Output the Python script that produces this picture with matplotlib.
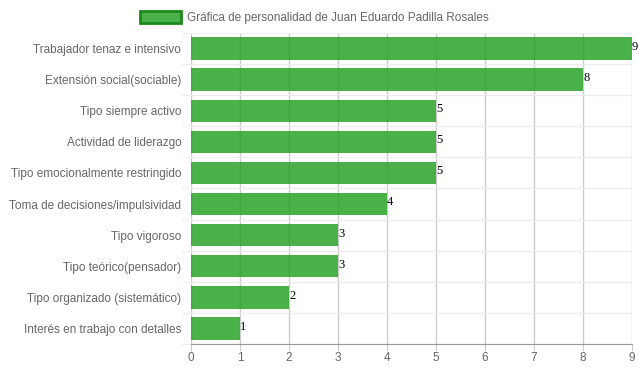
import numpy as np
import matplotlib.pyplot as plt
from matplotlib.patches import Patch

categories = ['Trabajador tenaz e intensivo', 'Extensión social(sociable)',
              'Tipo siempre activo', 'Actividad de liderazgo',
              'Tipo emocionalmente restringido', 'Toma de decisiones/impulsividad',
              'Tipo vigoroso', 'Tipo teórico(pensador)',
              'Tipo organizado (sistemático)', 'Interés en trabajo con detalles']
values = [9, 8, 5, 5, 5, 4, 3, 3, 2, 1]
title = 'Gráfica de personalidad de Juan Eduardo Padilla Rosales'

plt.rcParams['font.family'] = ['Liberation Sans', 'DejaVu Sans']

fig = plt.figure(figsize=(6.39, 3.72), dpi=100)
ax = fig.add_axes([191 / 639, 1 - 344 / 372, 441 / 639, 311 / 372])

bar_color = (34 / 255, 160 / 255, 34 / 255, 0.82)
y = np.arange(len(categories))
ax.barh(y, values, height=0.72, color=bar_color, zorder=2)

# value labels at the end of each bar
for yi, v in zip(y, values):
    ax.text(v, yi - 0.05, str(v), family='Liberation Serif', fontsize=9,
            color='black', ha='left', va='center', zorder=3, clip_on=False)

ax.set_xlim(0, 9)
ax.set_ylim(len(categories) - 0.5, -0.5)
ax.set_xticks(range(10))
ax.set_yticks(y)
ax.set_yticklabels(categories)
ax.set_yticks(np.arange(-0.5, len(categories)), minor=True)

ax.grid(axis='x', color='#cccccc', linewidth=1, zorder=1)
ax.grid(axis='y', which='minor', color='#ececec', linewidth=1, zorder=1)
ax.tick_params(axis='x', length=5, color='#cccccc', colors='#666666', labelsize=8.5, pad=1)
ax.tick_params(axis='y', which='major', length=0, colors='#666666', labelsize=8.5, pad=7)
ax.tick_params(axis='y', which='minor', length=7, color='#ececec')

for s in ['top', 'right', 'left']:
    ax.spines[s].set_visible(False)
ax.spines['bottom'].set_color('#999999')

handle = Patch(facecolor=bar_color, edgecolor='#1a8a1a', linewidth=2)
fig.legend([handle], [title], loc='upper center', bbox_to_anchor=(0.492, 1.0),
           frameon=False, fontsize=8.5, labelcolor='#666666',
           handlelength=3.5, handleheight=1.2, handletextpad=0.5)

fig.savefig('out.png', dpi=100)
